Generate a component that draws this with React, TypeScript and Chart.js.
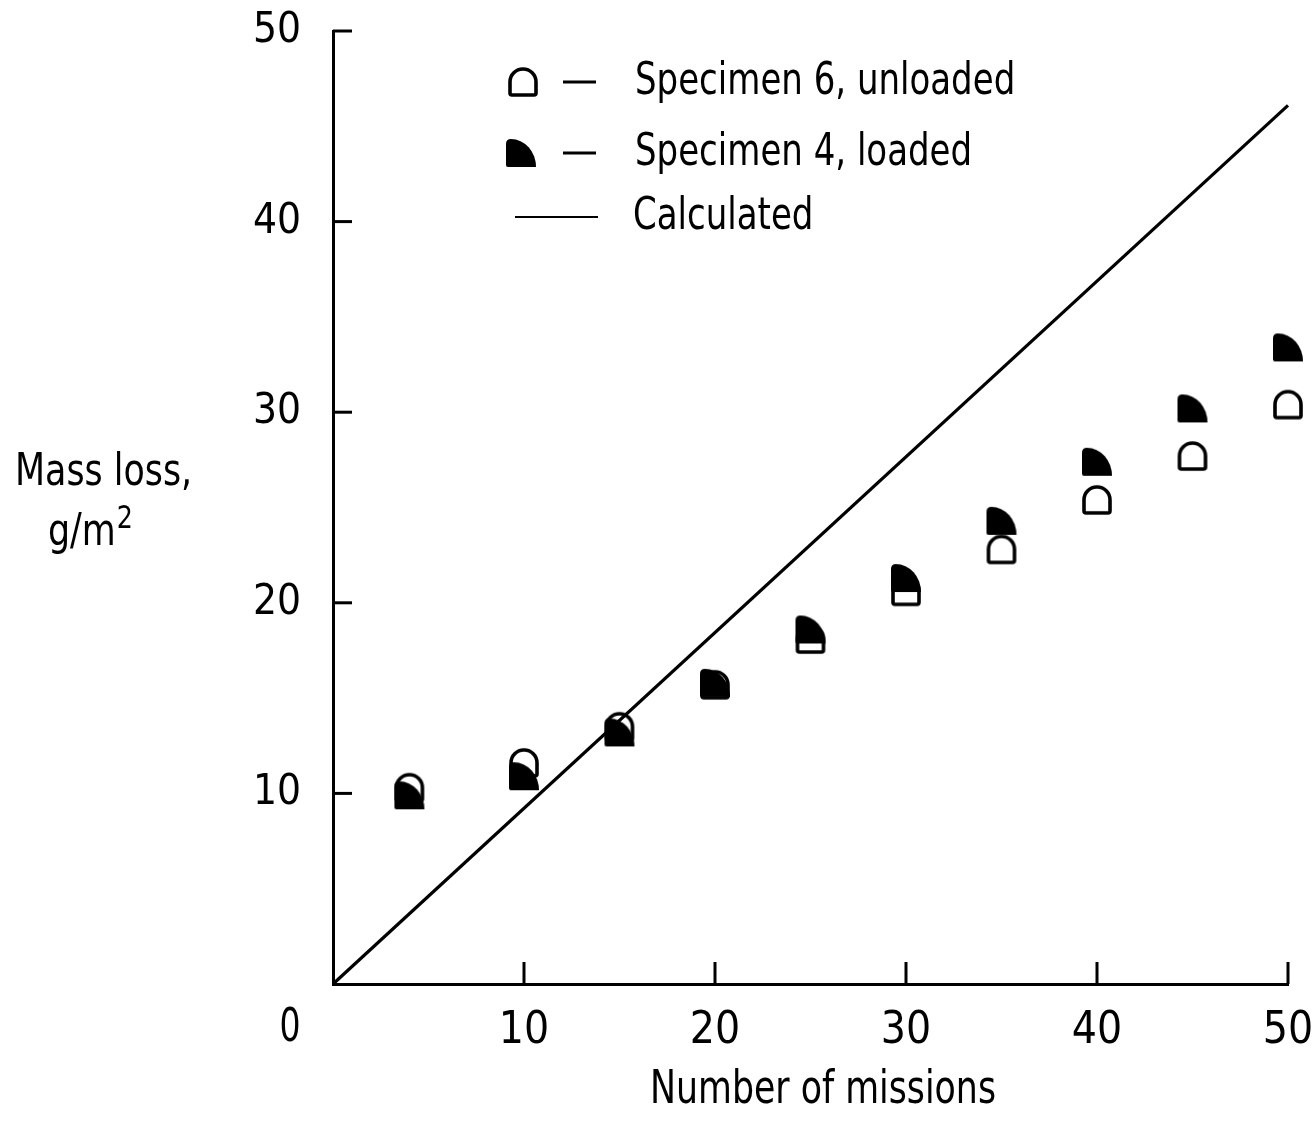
import React, { useEffect, useRef } from 'react';
import { Chart, registerables } from 'chart.js';

Chart.register(...registerables);

const missions = [4, 10, 15, 20, 25, 30, 35, 40, 45, 50];
const unloaded = [10.3, 11.6, 13.5, 15.7, 18.1, 20.6, 22.8, 25.4, 27.7, 30.4];
const loaded = [9.9, 10.9, 13.2, 15.8, 18.6, 21.3, 24.3, 27.4, 30.2, 33.4];
const calcX = [0, 50];
const calcY = [0, 46.1];
const xTicks = [0, 10, 20, 30, 40, 50];
const yTicks = [0, 10, 20, 30, 40, 50];
const legendLabels = ['Specimen 6, unloaded', 'Specimen 4, loaded', 'Calculated'];
const xTitle = 'Number of missions';
const yTitle1 = 'Mass loss,';
const yTitle2 = 'g/m';
const yTitleSup = '2';

const FONT = "'Liberation Sans Narrow', 'DejaVu Sans Condensed', 'Liberation Sans', sans-serif";

function makeOpen(): HTMLCanvasElement {
  const c = document.createElement('canvas');
  c.width = 34;
  c.height = 34;
  const g = c.getContext('2d')!;
  g.strokeStyle = '#000';
  g.lineWidth = 3.6;
  g.lineJoin = 'round';
  const l = 4, r = 30, t = 4, b = 30;
  const cx = 17, rx = 13, ry = 13;
  g.beginPath();
  g.moveTo(l, t + ry);
  g.ellipse(cx, t + ry, rx, ry, 0, Math.PI, 2 * Math.PI);
  g.lineTo(r, b - 2);
  g.quadraticCurveTo(r, b, r - 2, b);
  g.lineTo(l + 2, b);
  g.quadraticCurveTo(l, b, l, b - 2);
  g.closePath();
  g.stroke();
  return c;
}

function makeFilled(): HTMLCanvasElement {
  const c = document.createElement('canvas');
  c.width = 34;
  c.height = 34;
  const g = c.getContext('2d')!;
  g.fillStyle = '#000';
  const l = 2, r = 32, t = 3, b = 31;
  g.beginPath();
  g.moveTo(l + 2, b);
  g.quadraticCurveTo(l, b, l, b - 2);
  g.lineTo(l, t + 5);
  g.quadraticCurveTo(l, t, l + 5, t);
  g.ellipse(l + 5, b, r - l - 5, b - t, 0, -Math.PI / 2, 0);
  g.closePath();
  g.fill();
  return c;
}

function narrowText(
  ctx: CanvasRenderingContext2D,
  text: string,
  x: number,
  y: number,
  sx: number,
) {
  ctx.save();
  ctx.translate(x, y);
  ctx.scale(sx, 1);
  ctx.fillText(text, 0, 0);
  ctx.restore();
}

export default function App() {
  const ref = useRef<HTMLCanvasElement | null>(null);

  useEffect(() => {
    const canvas = ref.current;
    if (!canvas) return;
    const openImg = makeOpen();
    const filledImg = makeFilled();

    const decor = {
      id: 'decor',
      afterDraw(chart: any) {
        const ctx = chart.ctx as CanvasRenderingContext2D;
        const xs = chart.scales.x;
        const ys = chart.scales.y;
        const ca = chart.chartArea;
        ctx.save();
        ctx.strokeStyle = '#000';
        ctx.lineWidth = 3;
        ctx.lineCap = 'butt';
        yTicks.forEach((v) => {
          if (v === 0) return;
          const py = ys.getPixelForValue(v);
          ctx.beginPath();
          ctx.moveTo(ca.left, py);
          ctx.lineTo(ca.left + 19, py);
          ctx.stroke();
        });
        xTicks.forEach((v) => {
          if (v === 0) return;
          const px = xs.getPixelForValue(v);
          ctx.beginPath();
          ctx.moveTo(px, ca.bottom);
          ctx.lineTo(px, ca.bottom - 22);
          ctx.stroke();
        });

        ctx.fillStyle = '#000';
        ctx.textBaseline = 'middle';
        ctx.textAlign = 'center';
        ctx.font = `46px ${FONT}`;
        narrowText(ctx, String(xTicks[0]), xs.getPixelForValue(0) - 43, ca.bottom + 45, 0.8);

        // axis titles
        ctx.textBaseline = 'alphabetic';
        ctx.font = `46px ${FONT}`;
        narrowText(ctx, xTitle, 823, 1103, 0.84);
        ctx.textAlign = 'left';
        ctx.font = `44px ${FONT}`;
        narrowText(ctx, yTitle1, 15, 485, 0.88);
        narrowText(ctx, yTitle2, 48, 545, 0.88);
        const w = ctx.measureText(yTitle2).width * 0.88;
        ctx.font = `32px ${FONT}`;
        narrowText(ctx, yTitleSup, 48 + w + 1, 528, 0.88);

        // legend
        ctx.font = `45px ${FONT}`;
        ctx.textBaseline = 'middle';
        const rows = [82, 153, 217];
        ctx.drawImage(openImg, 523 - 17, rows[0] - 17);
        ctx.drawImage(filledImg, 521 - 17, rows[1] - 17);
        ctx.lineWidth = 3;
        ctx.beginPath();
        ctx.moveTo(563, rows[0]);
        ctx.lineTo(596, rows[0]);
        ctx.moveTo(563, rows[1]);
        ctx.lineTo(596, rows[1]);
        ctx.stroke();
        ctx.lineWidth = 2;
        ctx.beginPath();
        ctx.moveTo(515, rows[2]);
        ctx.lineTo(598, rows[2]);
        ctx.stroke();
        narrowText(ctx, legendLabels[0], 635, rows[0], 0.84);
        narrowText(ctx, legendLabels[1], 635, rows[1], 0.84);
        narrowText(ctx, legendLabels[2], 633, rows[2], 0.84);
        ctx.restore();
      },
    };

    const chart = new Chart(canvas, {
      type: 'scatter',
      data: {
        datasets: [
          {
            label: legendLabels[1],
            data: missions.map((m, i) => ({ x: m, y: loaded[i] })),
            pointStyle: filledImg as any,
            pointRadius: 15,
            clip: false as any,
            order: 1,
          },
          {
            label: legendLabels[0],
            data: missions.map((m, i) => ({ x: m, y: unloaded[i] })),
            pointStyle: openImg as any,
            pointRadius: 15,
            clip: false as any,
            order: 2,
          },
          {
            label: legendLabels[2],
            data: calcX.map((x, i) => ({ x, y: calcY[i] })),
            showLine: true,
            borderColor: '#000',
            borderWidth: 3.2,
            pointRadius: 0,
            clip: false as any,
            order: 3,
          },
        ],
      },
      options: {
        responsive: false,
        animation: false,
        layout: { padding: { left: 0, right: 27, top: 31, bottom: 0 } },
        plugins: { legend: { display: false }, tooltip: { enabled: false } },
        scales: {
          x: {
            type: 'linear',
            min: 0,
            max: 50,
            afterFit: (s: any) => {
              s.height = 152;
              s.paddingLeft = 0;
              s.paddingRight = 0;
            },
            ticks: {
              stepSize: 10,
              padding: 21,
              color: '#000',
              maxRotation: 0,
              autoSkip: false,
              font: { family: FONT, size: 44 },
              callback: (v: any) => (v === 0 ? '' : String(v)),
            },
            grid: { display: true, drawOnChartArea: false, drawTicks: false },
            border: { display: true, color: '#000', width: 3 },
          },
          y: {
            type: 'linear',
            min: 0,
            max: 50,
            afterFit: (s: any) => {
              s.width = 333;
              s.paddingTop = 0;
              s.paddingBottom = 0;
            },
            ticks: {
              stepSize: 10,
              padding: 32,
              color: '#000',
              autoSkip: false,
              font: { family: FONT, size: 42 },
              callback: (v: any) => (v === 0 ? '' : String(v)),
            },
            grid: { display: true, drawOnChartArea: false, drawTicks: false },
            border: { display: true, color: '#000', width: 3 },
          },
        },
      },
      plugins: [decor],
    });
    return () => chart.destroy();
  }, []);

  return (
    <div style={{ position: 'fixed', left: 0, top: 0, width: 1315, height: 1136, background: '#fff' }}>
      <canvas ref={ref} width={1315} height={1136} style={{ display: 'block' }} />
    </div>
  );
}
